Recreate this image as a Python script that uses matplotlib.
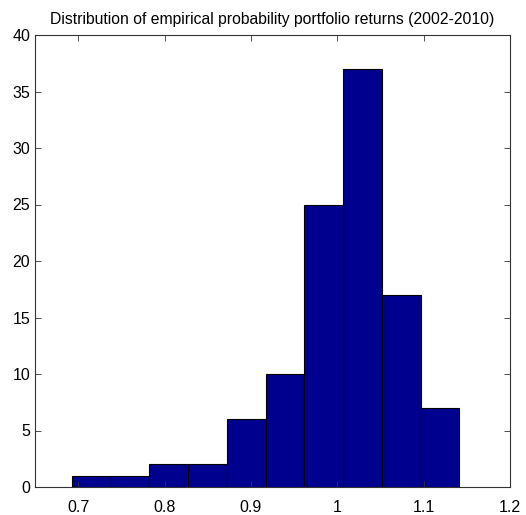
import numpy as np
import matplotlib
matplotlib.use('Agg')
import matplotlib.pyplot as plt

# Histogram counts (10 bins)
counts = [1, 1, 2, 2, 6, 10, 25, 37, 17, 7]
ret_min = 0.6926
ret_max = 1.1413
x_ticks = [0.7, 0.8, 0.9, 1.0, 1.1, 1.2]
x_tick_labels = ['0.7', '0.8', '0.9', '1', '1.1', '1.2']
y_ticks = [0, 5, 10, 15, 20, 25, 30, 35, 40]

plt.rcParams['font.family'] = ['Liberation Sans', 'DejaVu Sans']

edges = np.linspace(ret_min, ret_max, len(counts) + 1)
width = edges[1] - edges[0]

fig = plt.figure(figsize=(5.26, 5.15), dpi=100)
ax = fig.add_axes([35 / 526, 1 - 487 / 515, 475 / 526, 452 / 515])

ax.bar(edges[:-1], counts, width=width, align='edge',
       color=(0, 0, 0.5625), edgecolor='black', linewidth=0.8)

ax.set_xlim(0.65, 1.2)
ax.set_ylim(0, 40)
ax.set_xticks(x_ticks)
ax.set_xticklabels(x_tick_labels)
ax.set_yticks(y_ticks)
ax.tick_params(direction='in', top=True, right=True, length=4,
               labelsize=11.5, width=0.6, color='#333333')
ax.tick_params(axis='x', pad=9)
for s in ax.spines.values():
    s.set_linewidth(0.8)
    s.set_color('#333333')

ax.set_title('Distribution of empirical probability portfolio returns (2002-2010)',
             fontsize=11.3, pad=8)

fig.savefig('out.png', dpi=100)
